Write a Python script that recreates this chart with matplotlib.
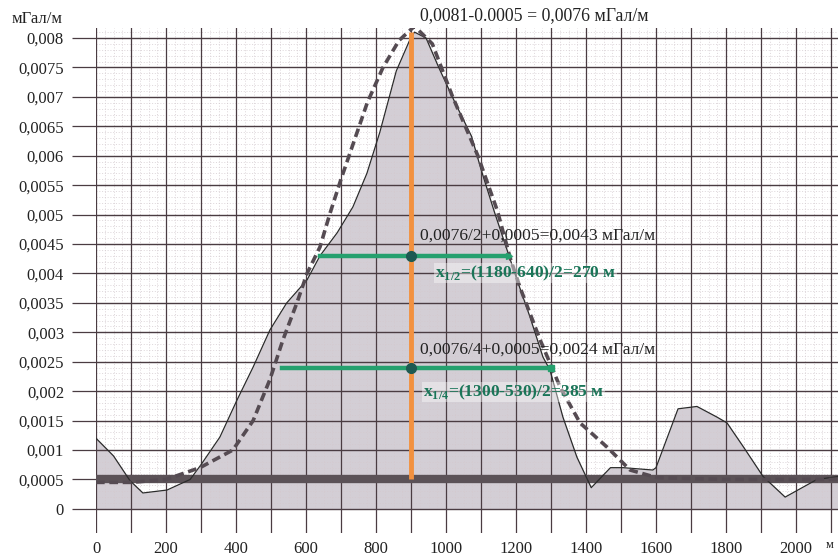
import matplotlib
matplotlib.use('Agg')
import matplotlib.pyplot as plt
import numpy as np

plt.rcParams['font.family'] = ['Liberation Serif', 'DejaVu Serif']
plt.rcParams['mathtext.fontset'] = 'custom'
plt.rcParams['mathtext.rm'] = 'Liberation Serif'
plt.rcParams['mathtext.bf'] = 'Liberation Serif:bold'

# ---- data ----
solid_x = [0, 50, 97, 134, 203, 269, 300, 354, 403, 449, 497, 545, 603, 640, 689, 734,
           774, 811, 858, 896, 910, 943, 980, 1026, 1073, 1101, 1138, 1180, 1203, 1240,
           1277, 1297, 1334, 1374, 1415, 1470, 1506, 1591, 1600, 1663, 1717, 1774, 1803,
           1849, 1906, 1969, 2060, 2120]
solid_y = [0.0012, 0.0009, 0.00048, 0.00027, 0.00032, 0.0005, 0.00075, 0.00122, 0.00185,
           0.00241, 0.00304, 0.0035, 0.00389, 0.0043, 0.00469, 0.00513, 0.0057, 0.0064,
           0.00744, 0.00796, 0.0081, 0.008, 0.00749, 0.0069, 0.00633, 0.00575, 0.00505,
           0.0043, 0.00389, 0.00326, 0.00258, 0.00236, 0.00156, 0.00088, 0.00036, 0.0007,
           0.0007, 0.00066, 0.0007, 0.0017, 0.00174, 0.00156, 0.00146, 0.00106, 0.00055,
           0.0002, 0.0005, 0.00055]

dash_x = [0, 100, 200, 297, 391, 449, 497, 534, 574, 603, 640, 669, 700, 775, 820, 866,
          910, 961, 1017, 1091, 1147, 1184, 1211, 1269, 1326, 1383, 1460, 1526, 1603,
          1800, 2000, 2120]
dash_y = [0.00045, 0.00045, 0.0005, 0.0007, 0.001, 0.0015, 0.0022, 0.00287, 0.0035, 0.004,
          0.00445, 0.00503, 0.0056, 0.0069, 0.0075, 0.00796, 0.0082, 0.0079, 0.00703,
          0.006, 0.00506, 0.00425, 0.00377, 0.00287, 0.00207, 0.00146, 0.00105, 0.00066,
          0.00053, 0.0005, 0.0005, 0.0005]

background = 0.0005
peak_x, peak_y = 900, 0.0081
half_level, half_left, half_right = 0.0043, 640, 1180
quarter_level, quarter_left, quarter_right = 0.0024, 530, 1300

x_ticks = list(range(0, 2001, 200))
y_ticks = [round(0.0005 * i, 4) for i in range(17)]

txt_top = "0,0081-0.0005 = 0,0076 мГал/м"
txt_half = "0,0076/2+0,0005=0,0043 мГал/м"
txt_half_x = r"x$_{\mathbf{1/2}}$=(1180-640)/2=270 м"
txt_quarter = "0,0076/4+0,0005=0,0024 мГал/м"
txt_quarter_x = r"x$_{\mathbf{1/4}}$=(1300-530)/2=385 м"

# ---- figure ----
W, H = 838, 558
fig = plt.figure(figsize=(W / 100, H / 100), dpi=100)
ax = fig.add_axes([96 / W, 1 - 533 / H, (W - 96) / W, (533 - 28) / H])
ymin, ymax = -0.00041, 0.00817
ax.set_xlim(0, 2120)
ax.set_ylim(ymin, ymax)
for s in ax.spines.values():
    s.set_visible(False)

major_c = '#4a3c42'
minor_c = '#d3c9ce'

# minor horizontal grid
for i in range(0, 82):
    v = i * 0.0001
    if i % 5 != 0:
        ax.axhline(v, color=minor_c, lw=0.5, ls=(0, (1.5, 2.5)), zorder=1)
# minor vertical grid (above zero only)
for xm in range(0, 2121, 25):
    if xm % 100 != 0:
        ax.vlines(xm, 0, ymax, color=minor_c, lw=0.5, ls=(0, (1.5, 2.5)), zorder=1)
# major grid
for v in y_ticks:
    ax.axhline(v, color=major_c, lw=1.0, zorder=1.5)
for xm in range(0, 2121, 100):
    ax.axvline(xm, color=major_c, lw=0.9, zorder=1.5)

# fill and curves
ax.fill_between(solid_x, solid_y, 0, color='#d3ced5', zorder=0.8, lw=0)
ax.axhline(background, color='#5b5257', lw=6, zorder=2.5)
ax.plot(solid_x, solid_y, color='#2b2b2b', lw=0.9, zorder=3)
ax.plot(dash_x, dash_y, color='#554b52', lw=2.6, ls=(0, (2.4, 1.3)), zorder=4)

# orange vertical
ax.plot([peak_x, peak_x], [background, peak_y], color='#f2913f', lw=3.5, zorder=5,
        solid_capstyle='butt')

# green widths
green = '#25a06e'
ax.plot([half_left, half_right], [half_level, half_level], color=green, lw=3.2, zorder=5)
ax.plot([quarter_left, quarter_right], [quarter_level, quarter_level], color=green, lw=3.2, zorder=5)
ax.plot([half_right], [half_level], marker='>', color=green, ms=5, zorder=5)
ax.plot([quarter_right], [quarter_level], marker='s', color=green, ms=4.5, zorder=5)
ax.plot([peak_x, peak_x], [half_level, quarter_level], ls='none', marker='o', ms=7,
        color='#1d5a52', zorder=6)

# ticks
ax.set_yticks(y_ticks)
ax.set_yticklabels([('0' if v == 0 else f"{v:g}").replace('.', ',') for v in y_ticks])
ax.tick_params(axis='y', length=17, width=0.9, color=major_c, pad=6, labelsize=12,
               labelcolor='#222222')
ax.set_xticks(x_ticks)
ax.set_xticklabels([str(v) for v in x_ticks])
ax.tick_params(axis='x', length=0, pad=6, labelsize=12, labelcolor='#222222')

# annotations
def dx(px):
    return (px - 96) / 0.35

def dy(py):
    return (509 - py) / 58875

ax.text(dx(420), dy(16), txt_top, fontsize=12.8, color='#222222', va='center', ha='left',
        clip_on=False, zorder=7)
ax.text(dx(420), dy(236), txt_half, fontsize=12.6, color='#222222', va='center', ha='left', zorder=7)
ax.text(dx(435), dy(273), txt_half_x, fontsize=12.6, color='#1a7558', fontweight='bold',
        va='center', ha='left', zorder=7,
        bbox=dict(facecolor='white', edgecolor='none', alpha=0.4, pad=0.5))
ax.text(dx(420), dy(350), txt_quarter, fontsize=12.6, color='#222222', va='center', ha='left', zorder=7)
ax.text(dx(423), dy(392), txt_quarter_x, fontsize=12.6, color='#1a7558', fontweight='bold',
        va='center', ha='left', zorder=7,
        bbox=dict(facecolor='white', edgecolor='none', alpha=0.4, pad=0.5))

fig.text(12 / W, 1 - 19 / H, 'мГал/м', fontsize=12, va='center', ha='left', color='#222222')
fig.text(826 / W, 1 - 545 / H, 'м', fontsize=9, va='center', ha='left', color='#222222')

fig.savefig('out.png', dpi=100)
